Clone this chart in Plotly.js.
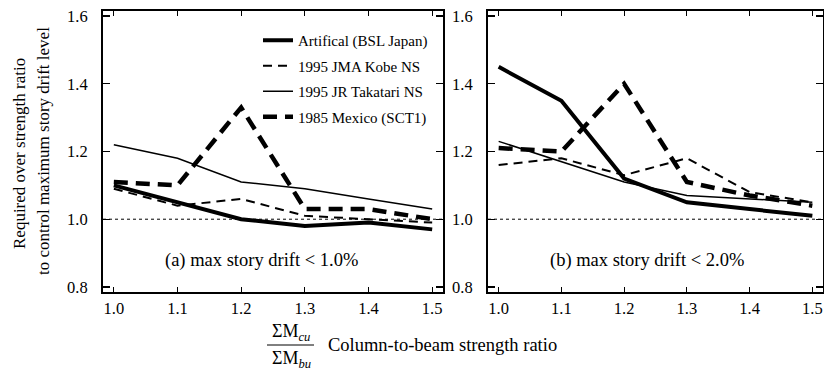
<!DOCTYPE html>
<html>
<head>
<meta charset="utf-8">
<script src="https://cdn.plot.ly/plotly-3.0.1.min.js"></script>
<style>html,body{margin:0;padding:0;background:#fff;}#chart{width:824px;height:370px;}</style>
</head>
<body>
<div id="chart"></div>
<script>
// Column-to-beam strength ratio
const ratio = [1.0, 1.1, 1.2, 1.3, 1.4, 1.5];
const seriesNames = ["Artifical (BSL Japan)", "1995 JMA Kobe NS", "1995 JR Takatari NS", "1985 Mexico (SCT1)"];

// (a) max story drift < 1.0%
const a_artificial = [1.10, 1.05, 1.00, 0.98, 0.99, 0.97];
const a_jmaKobe    = [1.09, 1.04, 1.06, 1.01, 1.00, 0.99];
const a_jrTakatari = [1.22, 1.18, 1.11, 1.09, 1.06, 1.03];
const a_mexico     = [1.11, 1.10, 1.33, 1.03, 1.03, 1.00];

// (b) max story drift < 2.0%
const b_artificial = [1.45, 1.35, 1.12, 1.05, 1.03, 1.01];
const b_jmaKobe    = [1.16, 1.18, 1.13, 1.18, 1.08, 1.05];
const b_jrTakatari = [1.23, 1.17, 1.11, 1.07, 1.06, 1.05];
const b_mexico     = [1.21, 1.20, 1.40, 1.11, 1.07, 1.04];

const xTicks = [1.0, 1.1, 1.2, 1.3, 1.4, 1.5];
const xTickText = ["1.0", "1.1", "1.2", "1.3", "1.4", "1.5"];
const xMajorTicks = [1.0, 1.2, 1.4];
const yTicks = [0.8, 1.0, 1.2, 1.4, 1.6];
const yTickText = ["0.8", "1.0", "1.2", "1.4", "1.6"];

const styles = [
  {width: 4, dash: "solid"},
  {width: 2, dash: "9px,6px"},
  {width: 1.5, dash: "solid"},
  {width: 4.5, dash: "14px,8px"}
];

const aData = [a_artificial, a_jmaKobe, a_jrTakatari, a_mexico];
const bData = [b_artificial, b_jmaKobe, b_jrTakatari, b_mexico];

const traces = [];
aData.forEach((ys, i) => traces.push({
  x: ratio, y: ys, xaxis: "x", yaxis: "y", type: "scatter", mode: "lines",
  name: seriesNames[i], legendgroup: "g" + i,
  line: {color: "#000", width: styles[i].width, dash: styles[i].dash}
}));
bData.forEach((ys, i) => traces.push({
  x: ratio, y: ys, xaxis: "x2", yaxis: "y2", type: "scatter", mode: "lines",
  name: seriesNames[i], showlegend: false,
  line: {color: "#000", width: styles[i].width, dash: styles[i].dash}
}));

const W = 824, H = 370;
const FAM = "'Liberation Serif', 'Times New Roman', 'DejaVu Serif', serif";
const XR = [0.983, 1.517], YR = [0.785, 1.615];
const YDOM = [1 - 292 / H, 1 - 11 / H];
const XDOM1 = [103 / W, 443 / W], XDOM2 = [488 / W, 823 / W];

function xAx(domain, anchor) {
  return {domain: domain, range: XR, anchor: anchor, tickvals: xTicks, ticktext: xTickText,
    ticks: "inside", ticklen: 5, tickwidth: 1.2, tickcolor: "#000", mirror: "allticks",
    showline: true, linewidth: 2, linecolor: "#000", showgrid: false, zeroline: false,
    tickfont: {family: FAM, size: 16.5, color: "#000"}, fixedrange: true};
}
function xOver(domain, over, anchor) {
  return {domain: domain, range: XR, overlaying: over, anchor: anchor, tickvals: xMajorTicks,
    ticks: "inside", ticklen: 10, tickwidth: 1.2, tickcolor: "#000", mirror: "allticks",
    showline: false, showticklabels: false, showgrid: false, zeroline: false, fixedrange: true};
}
function yAx(anchor) {
  return {domain: YDOM, range: YR, tickvals: yTicks, ticktext: yTickText, anchor: anchor,
    ticks: "inside", ticklen: 7, tickwidth: 1.2, tickcolor: "#000", mirror: "allticks",
    showline: true, linewidth: 2, linecolor: "#000", showgrid: false, zeroline: false,
    ticklabelstandoff: 10,
    tickfont: {family: FAM, size: 16.5, color: "#000"}, fixedrange: true};
}
function yOver(over, anchor) {
  return {domain: YDOM, range: YR, tickvals: yTicks, overlaying: over, anchor: anchor,
    ticks: "outside", ticklen: 4, tickwidth: 1.2, tickcolor: "#000",
    showline: false, showticklabels: false, showgrid: false, zeroline: false, fixedrange: true};
}

const layout = {
  width: W, height: H,
  margin: {l: 0, r: 0, t: 0, b: 0},
  paper_bgcolor: "#fff", plot_bgcolor: "#fff",
  font: {family: FAM, size: 15, color: "#000"},
  xaxis: xAx(XDOM1, "y"),
  yaxis: yAx("x"),
  xaxis2: xAx(XDOM2, "y2"),
  yaxis2: yAx("x2"),
  xaxis3: xOver(XDOM1, "x", "y"),
  yaxis3: yOver("y", "x"),
  xaxis4: xOver(XDOM2, "x2", "y2"),
  yaxis4: yOver("y2", "x2"),
  showlegend: true,
  legend: {x: 258 / W, y: 1 - 24 / H, xanchor: "left", yanchor: "top",
    bgcolor: "rgba(0,0,0,0)", borderwidth: 0, traceorder: "grouped", tracegroupgap: 3,
    font: {family: FAM, size: 15, color: "#000"}},
  shapes: [
    {type: "line", xref: "x domain", yref: "y", x0: 0, x1: 1, y0: 1.0, y1: 1.0,
      line: {color: "#000", width: 1, dash: "3px,3px"}},
    {type: "line", xref: "x2 domain", yref: "y2", x0: 0, x1: 1, y0: 1.0, y1: 1.0,
      line: {color: "#000", width: 1, dash: "3px,3px"}},
    {type: "line", xref: "paper", yref: "paper", x0: 267 / W, x1: 314 / W, y0: 1 - 345 / H, y1: 1 - 345 / H,
      line: {color: "#000", width: 1}}
  ],
  annotations: [
    {xref: "paper", yref: "paper", x: 261 / W, y: 1 - 260 / H, xanchor: "center", yanchor: "middle",
      text: "(a) max story drift &lt; 1.0%",
      showarrow: false, font: {family: FAM, size: 18.5, color: "#000"}},
    {xref: "paper", yref: "paper", x: 647 / W, y: 1 - 260 / H, xanchor: "center", yanchor: "middle",
      text: "(b) max story drift &lt; 2.0%",
      showarrow: false, font: {family: FAM, size: 18.5, color: "#000"}},
    {xref: "paper", yref: "paper", x: 19 / W, y: 1 - 154 / H, xanchor: "center", yanchor: "middle", textangle: -90,
      text: "Required over strength ratio",
      showarrow: false, font: {family: FAM, size: 17, color: "#000"}},
    {xref: "paper", yref: "paper", x: 43 / W, y: 1 - 151 / H, xanchor: "center", yanchor: "middle", textangle: -90,
      text: "to control maximum story drift level",
      showarrow: false, font: {family: FAM, size: 17, color: "#000"}},
    {xref: "paper", yref: "paper", x: 442 / W, y: 1 - 345 / H, xanchor: "center", yanchor: "middle",
      text: "Column-to-beam strength ratio",
      showarrow: false, font: {family: FAM, size: 18.5, color: "#000"}},
    {xref: "paper", yref: "paper", x: 291 / W, y: 1 - 332 / H, xanchor: "center", yanchor: "middle",
      text: "ΣM<sub><i>cu</i></sub>",
      showarrow: false, font: {family: FAM, size: 18, color: "#000"}},
    {xref: "paper", yref: "paper", x: 291 / W, y: 1 - 359 / H, xanchor: "center", yanchor: "middle",
      text: "ΣM<sub><i>bu</i></sub>",
      showarrow: false, font: {family: FAM, size: 18, color: "#000"}}
  ]
};

Plotly.newPlot("chart", traces, layout, {staticPlot: true, displayModeBar: false});
</script>
</body>
</html>
